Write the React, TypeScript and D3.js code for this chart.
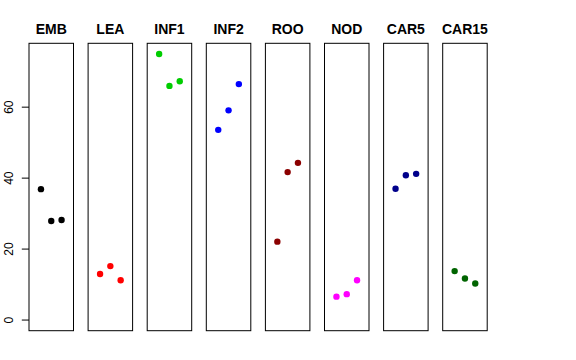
import React from "react";
import * as d3 from "d3";

const categories = ["EMB", "LEA", "INF1", "INF2", "ROO", "NOD", "CAR5", "CAR15"];
const colors = ["#000000", "#FF0000", "#00CD00", "#0000FF", "#8B0000", "#FF00FF", "#00008B", "#006400"];
const rep1 = [36.9, 13.0, 75.0, 53.6, 22.1, 6.6, 37.0, 13.8];
const rep2 = [27.9, 15.2, 66.0, 59.1, 41.7, 7.3, 40.8, 11.7];
const rep3 = [28.2, 11.2, 67.3, 66.5, 44.3, 11.2, 41.2, 10.3];
const yTicks = [0, 20, 40, 60];

const W = 576;
const H = 360;
const panelLeft0 = 29;
const panelStep = 59.1;
const panelW = 44.5;
const top = 43.3;
const bottom = 330.7;

export default function App() {
  const series = [rep1, rep2, rep3];
  const maxV = d3.max(series.flat()) as number;
  const ext = maxV * 0.04;
  const y = d3.scaleLinear().domain([0 - ext, maxV + ext]).range([bottom, top]);
  const font = "'Liberation Sans', Arial, Helvetica, sans-serif";

  return (
    <svg width={W} height={H} style={{ position: "absolute", left: 0, top: 0 }}>
      <rect x={0} y={0} width={W} height={H} fill="#fff" />
      {yTicks.map((t) => (
        <g key={t}>
          <line x1={panelLeft0 - 7.2} x2={panelLeft0} y1={y(t)} y2={y(t)} stroke="#000" strokeWidth={1} />
          <text
            transform={`translate(13,${y(t)}) rotate(-90)`}
            textAnchor="middle"
            fontSize={12}
            fontFamily={font}
          >
            {t}
          </text>
        </g>
      ))}
      {categories.map((c, i) => {
        const x0 = panelLeft0 + i * panelStep;
        const x = d3.scaleLinear().domain([-0.16, 4.16]).range([x0, x0 + panelW]);
        return (
          <g key={c}>
            <rect x={x0} y={top} width={panelW} height={bottom - top} fill="none" stroke="#000" strokeWidth={1} />
            <text
              x={x0 + panelW / 2}
              y={34.3}
              textAnchor="middle"
              fontSize={14}
              fontWeight="bold"
              fontFamily={font}
            >
              {c}
            </text>
            {series.map((s, j) => (
              <circle key={j} cx={x(j + 1)} cy={y(s[i])} r={3.2} fill={colors[i]} />
            ))}
          </g>
        );
      })}
    </svg>
  );
}
